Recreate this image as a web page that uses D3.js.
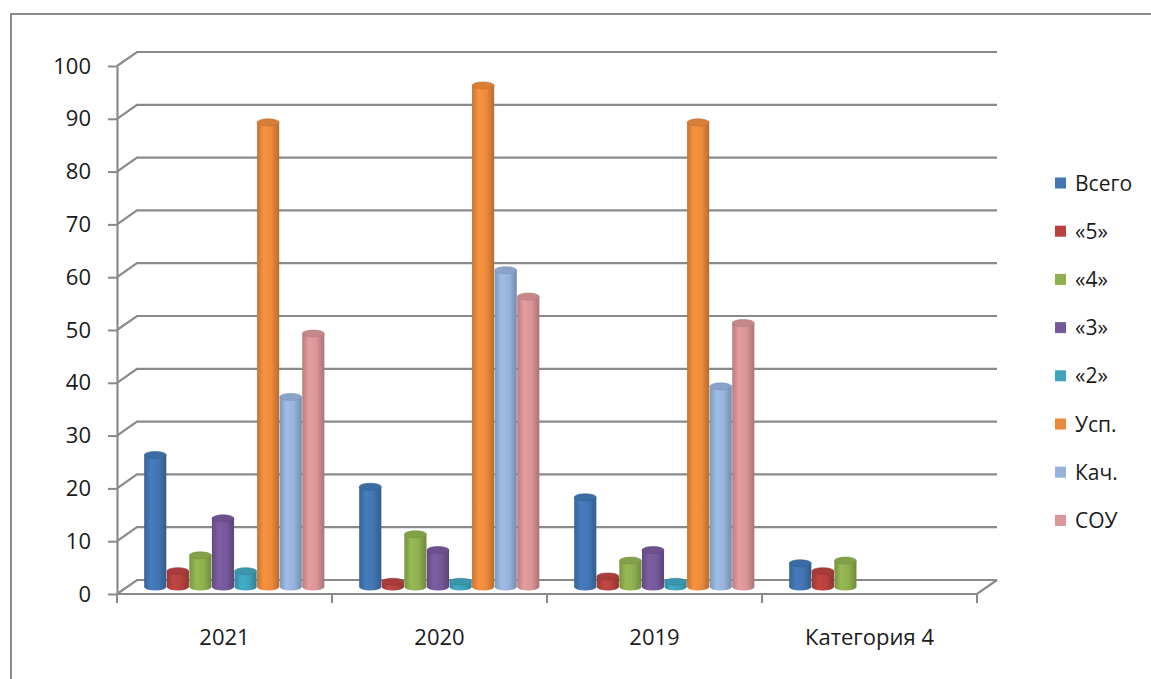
<!DOCTYPE html>
<html>
<head>
<meta charset="utf-8">
<script src="https://cdn.jsdelivr.net/npm/d3@7"></script>
<style>
  body { margin: 0; background: #fff; }
  text { font-family: "Open Sans", sans-serif; fill: #1a1a1a; }
</style>
</head>
<body>
<svg id="chart"></svg>
<script>
// categories and series
let categories = ["2021", "2020", "2019", "Категория 4"];
let seriesNames = ["Всего", "«5»", "«4»", "«3»", "«2»", "Усп.", "Кач.", "СОУ"];
let seriesColors = ["#4276b3", "#b8423f", "#8fb04f", "#76599a", "#3fa3bd", "#ec8a3c", "#97b3dc", "#d99597"];
let vsego = [25, 19, 17, 4.5];
let five  = [3, 1, 2, 3];
let four  = [6, 10, 5, 5];
let three = [13, 7, 7, null];
let two   = [3, 1, 1, null];
let usp   = [88, 95, 88, null];
let kach  = [36, 60, 38, null];
let sou   = [48, 55, 50, null];
let yTicks = [0, 10, 20, 30, 40, 50, 60, 70, 80, 90, 100];

let allSeries = [vsego, five, four, three, two, usp, kach, sou];

function getConfig() {
  let width = 1151;
  let height = 679;
  let plot = { left: 117, right: 977, top: 66, bottom: 594 };
  // depth offset of the back wall
  let depth = { dx: 20, dy: -14 };
  let container = d3.select("#chart")
    .attr("width", width)
    .attr("height", height);
  return { width, height, plot, depth, container };
}

function getScales(config) {
  let { plot } = config;
  let yScale = d3.scaleLinear()
    .domain([0, 100])
    .range([plot.bottom, plot.top]);
  let xScale = d3.scaleBand()
    .domain(categories)
    .range([plot.left, plot.right]);
  let innerScale = d3.scaleBand()
    .domain(seriesNames)
    .range([0, xScale.bandwidth() * 0.84]);
  return { xScale, yScale, innerScale };
}

function drawFrame(config, scales) {
  let { container, plot, depth, width, height } = config;
  let { xScale, yScale } = scales;
  let grey = "#8a8a8a";

  // outer chart border, runs off the right and bottom edge
  container.append("rect")
    .attr("x", 11).attr("y", 14)
    .attr("width", width + 10).attr("height", height + 10)
    .attr("fill", "none")
    .attr("stroke", grey)
    .attr("stroke-width", 2);

  // back wall gridlines with the little diagonal to the axis
  let grid = container.append("g");
  grid.selectAll("path")
    .data(yTicks)
    .enter()
    .append("path")
      .attr("d", d => {
        let y = yScale(d);
        return `M${plot.left},${y} L${plot.left + depth.dx},${y + depth.dy} L${plot.right + depth.dx},${y + depth.dy}`;
      })
      .attr("fill", "none")
      .attr("stroke", grey)
      .attr("stroke-width", 2.2);

  // floor front edge and right side
  grid.append("path")
    .attr("d", `M${plot.left},${plot.bottom} L${plot.right},${plot.bottom} L${plot.right + depth.dx},${plot.bottom + depth.dy}`)
    .attr("fill", "none")
    .attr("stroke", grey)
    .attr("stroke-width", 2.2);

  // category boundary ticks
  let bounds = categories.map(c => xScale(c)).concat([plot.right]);
  grid.selectAll("line.ctick")
    .data(bounds)
    .enter()
    .append("line")
      .attr("class", "ctick")
      .attr("x1", d => d).attr("x2", d => d)
      .attr("y1", plot.bottom).attr("y2", plot.bottom + 9)
      .attr("stroke", grey)
      .attr("stroke-width", 2);

  // y axis
  let yAxis = container.append("g")
    .attr("transform", `translate(${plot.left},0)`)
    .call(d3.axisLeft(yScale).tickValues(yTicks).tickSize(9).tickSizeOuter(0).tickPadding(17));
  yAxis.select(".domain").attr("stroke", grey).attr("stroke-width", 2.2);
  yAxis.selectAll(".tick line").attr("stroke", grey).attr("stroke-width", 2);
  yAxis.selectAll(".tick text")
    .style("font-family", "'Open Sans', sans-serif")
    .style("font-size", "22px")
    .attr("fill", "#1a1a1a");

  // x labels
  let xAxis = container.append("g")
    .attr("transform", `translate(0,${plot.bottom})`)
    .call(d3.axisBottom(xScale).tickSize(0).tickPadding(35));
  xAxis.select(".domain").remove();
  xAxis.selectAll(".tick text")
    .style("font-family", "'Open Sans', sans-serif")
    .style("font-size", "22px")
    .attr("fill", "#1a1a1a");
}

function drawBars(config, scales) {
  let { container, depth } = config;
  let { xScale, yScale, innerScale } = scales;

  let defs = container.append("defs");
  seriesColors.forEach((col, i) => {
    let c = d3.color(col);
    let g = defs.append("linearGradient")
      .attr("id", "grad" + i)
      .attr("x1", "0%").attr("x2", "100%")
      .attr("y1", "0%").attr("y2", "0%");
    g.append("stop").attr("offset", "0%").attr("stop-color", c.darker(0.5));
    g.append("stop").attr("offset", "30%").attr("stop-color", c.brighter(0.15));
    g.append("stop").attr("offset", "65%").attr("stop-color", c);
    g.append("stop").attr("offset", "100%").attr("stop-color", c.darker(0.7));
  });

  let bars = [];
  categories.forEach((cat, ci) => {
    allSeries.forEach((s, si) => {
      if (s[ci] == null) return;
      bars.push({ cat, ci, si, value: s[ci] });
    });
  });

  let groupOffset = (xScale.bandwidth() - innerScale.range()[1]) / 2;
  let bw = innerScale.bandwidth() * 0.98;
  let ry = 3.5;
  let midDx = depth.dx / 2, midDy = depth.dy / 2;

  let g = container.append("g");
  let bar = g.selectAll("g.bar")
    .data(bars)
    .enter()
    .append("g")
      .attr("class", "bar")
      .attr("transform", d => {
        let x = xScale(d.cat) + groupOffset + innerScale(seriesNames[d.si]) + midDx;
        return `translate(${x},${midDy})`;
      });

  let base = yScale(0);
  // bottom rounded part
  bar.append("ellipse")
    .attr("cx", bw / 2).attr("cy", base)
    .attr("rx", bw / 2).attr("ry", ry)
    .attr("fill", d => `url(#grad${d.si})`);
  // body
  bar.append("rect")
    .attr("x", 0).attr("width", bw)
    .attr("y", d => yScale(d.value))
    .attr("height", d => base - yScale(d.value))
    .attr("fill", d => `url(#grad${d.si})`);
  // top cap
  bar.append("ellipse")
    .attr("cx", bw / 2).attr("cy", d => yScale(d.value))
    .attr("rx", bw / 2).attr("ry", ry)
    .attr("fill", d => d3.color(seriesColors[d.si]).darker(0.25))
    .attr("stroke", d => d3.color(seriesColors[d.si]).darker(0.6))
    .attr("stroke-width", 0.6);
}

function drawLegend(config) {
  let { container } = config;
  let legend = container.append("g")
    .attr("transform", "translate(1055,183)");
  let item = legend.selectAll("g")
    .data(seriesNames)
    .enter()
    .append("g")
      .attr("transform", (d, i) => `translate(0,${i * 48.2})`);
  item.append("rect")
    .attr("x", 0).attr("y", -5.5)
    .attr("width", 11).attr("height", 11)
    .attr("fill", (d, i) => seriesColors[i]);
  item.append("text")
    .attr("x", 20).attr("y", 0)
    .attr("dy", "0.36em")
    .style("font-size", "21px")
    .text(d => d);
}

function drawChart() {
  let config = getConfig();
  let scales = getScales(config);
  drawFrame(config, scales);
  drawBars(config, scales);
  drawLegend(config);
}

drawChart();
</script>
</body>
</html>
